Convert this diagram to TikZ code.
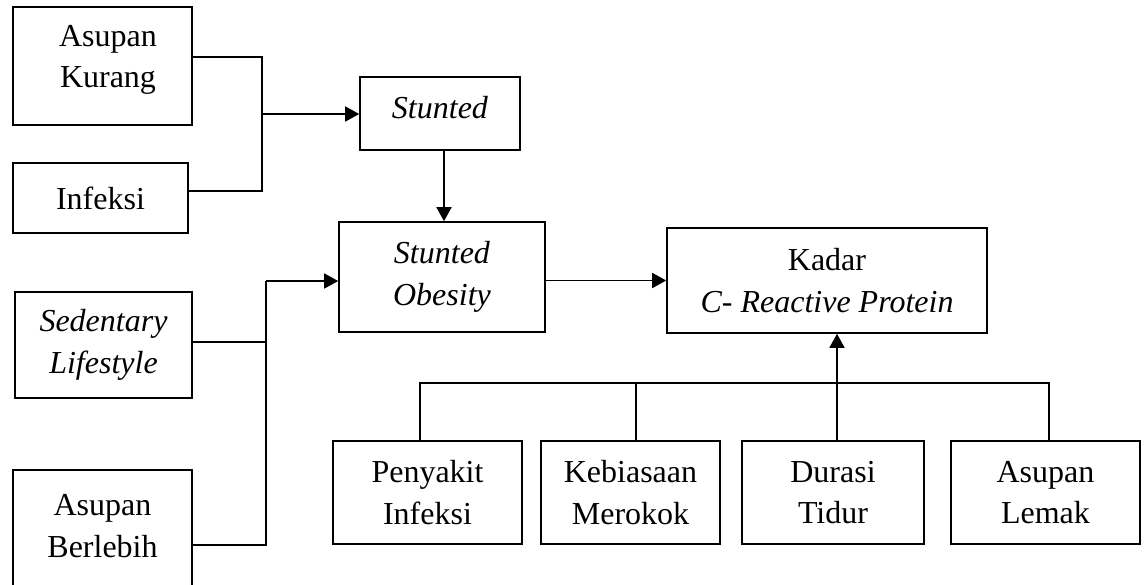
\documentclass[tikz,border=0pt]{standalone}
\usepackage{fontspec}
\setmainfont{Liberation Serif}
\usetikzlibrary{arrows.meta}
\begin{document}
\begin{tikzpicture}[x=1pt,y=-1pt,
  box/.style={draw, line width=1.6pt, inner sep=0pt, align=center,
    font=\fontsize{32}{41.5}\selectfont},
  txt/.style={inner sep=0pt, align=center, font=\fontsize{32}{41.5}\selectfont},
  link/.style={line width=1.6pt},
  arr/.style={line width=1.6pt, -{Triangle[length=14pt,width=15pt]}}]
\useasboundingbox (0,0) rectangle (1148,584);
\clip (0,0) rectangle (1148,584);
% left column
\node[box, minimum width=179, minimum height=118] (ak) at (102.5,66) {};
\node[txt] (akt) at (108,60) {Asupan\\Kurang};
\node[box, minimum width=175, minimum height=70] (inf) at (100.5,198) {Infeksi};
\node[box, minimum width=177, minimum height=106] (sd) at (103.5,345) {\textit{Sedentary}\\\textit{Lifestyle}};
\node[txt] (ab) at (102.5,526) {Asupan\\Berlebih};
\draw[link] (13,600) -- (13,470) -- (192,470) -- (192,600);
% middle
\node[box, minimum width=160, minimum height=73] (st) at (440,113.5) {};
\node[txt] (stt) at (440,108) {\textit{Stunted}};
\node[box, minimum width=206, minimum height=110] (so) at (442,277) {\textit{Stunted}\\\textit{Obesity}};
\node[box, minimum width=320, minimum height=105] (kd) at (827,280.5) {Kadar\\\textit{C- Reactive Protein}};
% bottom row
\node[box, minimum width=189, minimum height=103] (py) at (427.5,492.5) {Penyakit\\Infeksi};
\node[box, minimum width=179, minimum height=103] (kb) at (630.5,492.5) {Kebiasaan\\Merokok};
\node[box, minimum width=182, minimum height=103] (dr) at (833,492.5) {Durasi\\Tidur};
\node[box, minimum width=189, minimum height=103] (al) at (1045.5,492.5) {Asupan\\Lemak};
% junctions
\coordinate (j1t) at (262,57);
\coordinate (j1m) at (262,114);
\coordinate (j1b) at (262,191);
\coordinate (j2t) at (266,281);
\coordinate (j2m) at (266,342);
\coordinate (j2b) at (266,545);
\coordinate (b1) at (420,383);
\coordinate (b2) at (636,383);
\coordinate (b3) at (837,383);
\coordinate (b4) at (1049,383);
% connectors
\draw[link] (ak.east |- j1t) -- (j1t) -- (j1b) -- (inf.east |- j1b);
\draw[arr] (j1m) -- (st.west |- j1m);
\draw[arr] (st.south -| 444,0) -- (so.north -| 444,0);
\draw[link] (sd.east |- j2m) -- (j2m);
\draw[link] (192,545) -- (j2b) -- (j2t);
\draw[arr] (j2t) -- (so.west |- j2t);
\draw[arr] (so.east |- kd.west) -- (kd.west);
\draw[link] (py.north -| b1) -- (b1) -- (b4) -- (al.north -| b4);
\draw[link] (b2) -- (kb.north -| b2);
\draw[arr] (dr.north -| b3) -- (kd.south -| b3);
\end{tikzpicture}
\end{document}
